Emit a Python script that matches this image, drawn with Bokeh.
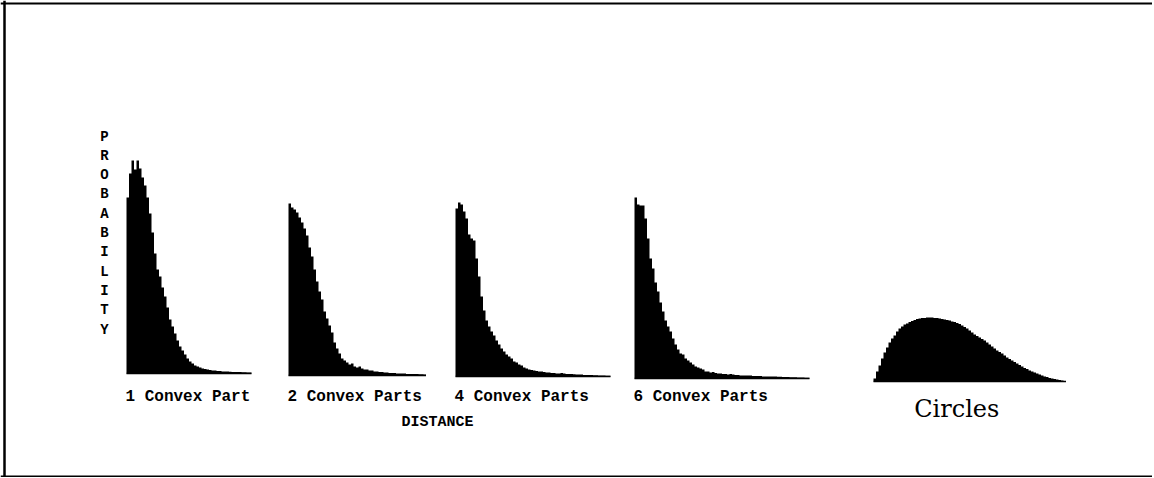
from bokeh.plotting import figure
from bokeh.models import Range1d, Span
from bokeh.core.properties import value
from bokeh.embed import file_html
from bokeh.resources import INLINE

# ---------------- data (relative probability per distance bin) ----------------
labels = ["1 Convex Part", "2 Convex Parts", "4 Convex Parts", "6 Convex Parts", "Circles"]
y_title = "PROBABILITY"
x_title = "DISTANCE"

prob_1 = [176, 200, 213, 204, 213, 205, 196, 188, 176, 160, 141, 120, 104, 97, 86,
          77, 66, 54, 47, 40, 33, 27, 23, 19, 15, 12, 10, 8, 7, 6, 5, 4.5, 4, 3.5,
          3, 3, 2.5, 2.5, 2, 2, 2, 1.8, 1.5, 1.5, 1.5, 1.5, 1.2, 1.2, 1, 1]

prob_2 = [172, 168, 166, 163, 158, 153, 147, 140, 128, 119, 106, 94, 84, 76, 64, 57,
          50, 43, 33, 27, 22, 17, 15, 13, 11, 12, 9, 8, 9, 7, 6, 6, 5, 5, 4, 4, 3.5,
          3.5, 3, 3, 2.5, 2.5, 2.5, 2, 2, 2, 2, 1.5, 1.5, 1.5, 1.5, 1.5, 1.2, 1.2, 1]

prob_4 = [168, 174, 172, 165, 158, 142, 138, 136, 118, 100, 80, 66, 56, 50, 45, 41,
          36, 32, 28, 25, 22, 20, 18, 15, 14, 12, 11, 9, 8, 7, 6.5, 6, 5.5, 5, 5,
          4.5, 4, 4, 3.5, 3.5, 3, 3, 3.5, 3, 2.5, 2.5, 2.5, 2.3, 2, 2, 2, 1.5, 1.5,
          1.5, 1.5, 1.2, 1.2, 1, 1, 1, 0.8, 0.8]

prob_6 = [181, 174, 173, 173, 160, 140, 120, 110, 96, 87, 76, 67, 58, 52, 47, 40, 34,
          29, 25, 24, 20, 18, 16, 14, 12, 11, 10, 9, 7, 7, 6, 6.5, 5.5, 5, 5, 4.5,
          4.5, 4, 4.5, 4, 3.5, 3.5, 3, 3, 3, 3, 3, 2.5, 2.5, 2.5, 2.5, 2, 2, 2, 2, 2,
          2, 1.8, 1.8, 1.5, 1.5, 1.5, 1.2, 1.2, 1.2, 1, 1, 1, 0.8, 0.8]

prob_circles = [3, 10, 16, 23, 29, 34, 39, 43, 46, 50, 53, 55, 57, 58, 59.5, 60.5,
                61.5, 62.5, 63, 63.5, 63.5, 64, 64, 64, 63.5, 63.5, 63, 62.5, 62,
                61.5, 61, 60, 59.5, 58.5, 57.5, 56, 54.5, 53, 51, 49, 47, 45.5, 44,
                42.5, 41, 39, 37, 35, 33, 31, 29.5, 28, 26, 24, 22.5, 21, 19.5, 18,
                16.5, 15, 13.5, 12.5, 11, 10, 9, 8, 7, 6, 5, 4.5, 3.5, 3, 2.5, 2,
                1.5, 1, 0.5]

series = [prob_1, prob_2, prob_4, prob_6, prob_circles]

# ---------------- layout (page pixels) ----------------
W, H = 1152, 477
OFF = 0                                   # page offset of the canvas
BIN_PX = 2.5                              # width of one bin on screen
panel_left = [126, 288, 455, 634, 873]
panel_base = [373, 375, 376, 378, 381]

MONO = value("Liberation Mono")
SERIF = value("DejaVu Serif")

p = figure(width=W, height=H, x_range=Range1d(0, W), y_range=Range1d(0, H),
           output_backend="svg", toolbar_location=None, min_border=0,
           background_fill_color="white", border_fill_color="white")
p.axis.visible = False
p.xgrid.visible = False
p.ygrid.visible = False
p.outline_line_color = None


def my(page_y):
    return (H + OFF) - page_y


for i, (vals, lab) in enumerate(zip(series, labels)):
    L, B = panel_left[i], panel_base[i]
    xs = -(L - OFF) / BIN_PX
    ys = -my(B)
    xn, yn = f"x{i}", f"y{i}"
    p.extra_x_ranges[xn] = Range1d(xs, xs + W / BIN_PX)
    p.extra_y_ranges[yn] = Range1d(ys, ys + H)
    n = len(vals)
    edges = list(range(n + 1))
    tops = list(vals) + [vals[-1]]
    p.varea_step(x=edges, y1=[0] * (n + 1), y2=tops, step_mode="after",
                 fill_color="black", x_range_name=xn, y_range_name=yn)
    p.segment(x0=[0], y0=[0], x1=[n], y1=[0], line_color="black", line_width=1.5,
              x_range_name=xn, y_range_name=yn)
    if lab == "Circles":
        p.text(x=[n / 2], y=[0], text=[lab], text_align="center",
               text_baseline="alphabetic", x_offset=-13, y_offset=408 - B,
               text_font=SERIF, text_font_size="24px", text_color="black",
               x_range_name=xn, y_range_name=yn)
    else:
        p.text(x=[0], y=[0], text=[lab], text_align="left",
               text_baseline="middle", x_offset=-1, y_offset=396 - B,
               text_font=MONO, text_font_size="16px", text_font_style="bold",
               text_color="black", x_range_name=xn, y_range_name=yn)

# axis titles
p.text(x=[437 - OFF], y=[my(422)], text=[x_title], text_align="center",
       text_baseline="middle", text_font=MONO, text_font_size="15px",
       text_font_style="bold", text_color="black")

letters = list(y_title)
p.text(x=[104 - OFF] * len(letters),
       y=[my(136 + 19.3 * k) for k in range(len(letters))],
       text=letters, text_align="center", text_baseline="middle",
       text_font=MONO, text_font_size="14px", text_font_style="bold",
       text_color="black")

# frame (left, top, bottom)
p.add_layout(Span(location=4, dimension="height", line_color="black", line_width=2.5))
p.add_layout(Span(location=my(3), dimension="width", line_color="black", line_width=2))
p.add_layout(Span(location=my(476), dimension="width", line_color="black", line_width=2))

open("out.html", "w").write(file_html(p, INLINE))
